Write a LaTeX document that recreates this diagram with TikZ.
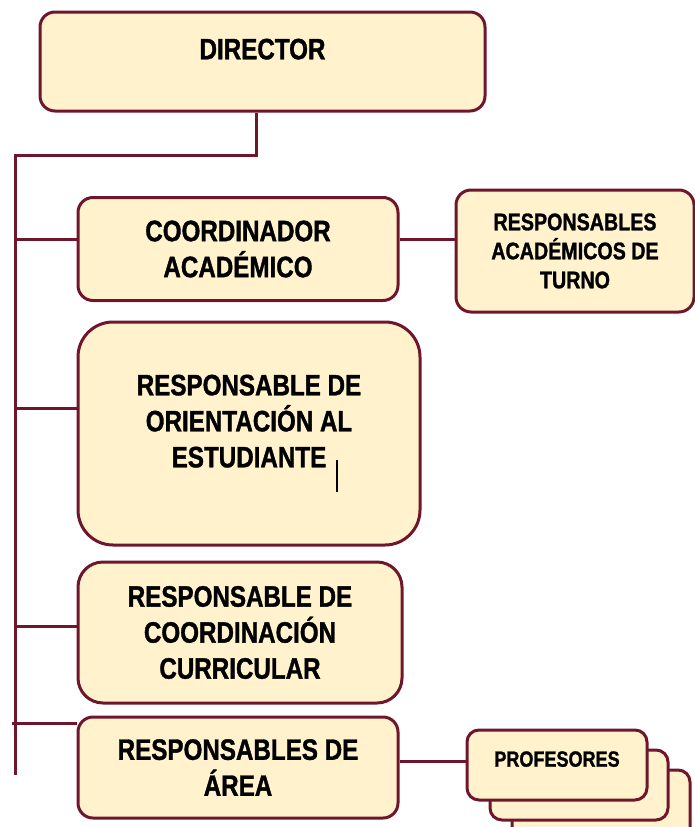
\documentclass[tikz,border=0pt]{standalone}
\usepackage{fontspec}
\newfontfamily\orgfont{Liberation Sans}[FakeStretch=0.82, BoldFeatures={FakeStretch=0.82, FakeBold=1.2}]
\definecolor{vino}{RGB}{112 22 44}
\definecolor{crema}{RGB}{255 242 204}

\begin{document}
\begin{tikzpicture}[x=1pt, y=-1pt,
	puesto/.style={draw=vino, fill=crema, line width=3pt, rounded corners=15pt,
		inner sep=0pt, align=center, text=black,
		font=\orgfont\bfseries\fontsize{29.5}{36}\selectfont},
	linea/.style={draw=vino, line width=3pt}]

	\useasboundingbox (0, 0) rectangle (695, 827);

	% boxes
	\node[puesto, minimum width=445pt, minimum height=99pt, text depth=25pt] (director) at (262.5, 61.5) {DIRECTOR};
	\node[puesto, minimum width=320pt, minimum height=103pt] (coord) at (238, 249) {COORDINADOR\\ACADÉMICO};
	\node[puesto, minimum width=238pt, minimum height=122pt,
		font=\orgfont\bfseries\fontsize{24}{29}\selectfont] (turno) at (575, 251) {RESPONSABLES\\ACADÉMICOS DE\\TURNO};
	\node[puesto, minimum width=342pt, minimum height=223pt, rounded corners=35pt,
		text depth=25pt] (orient) at (249, 433.5) {RESPONSABLE DE\\ORIENTACIÓN AL\\ESTUDIANTE};
	\node[puesto, minimum width=324pt, minimum height=141pt, rounded corners=25pt] (curric) at (240, 632.5) {RESPONSABLE DE\\COORDINACIÓN\\CURRICULAR};
	\node[puesto, minimum width=320pt, minimum height=101pt] (area) at (238, 767.5) {RESPONSABLES DE\\ÁREA};

	% stack
	\foreach \k/\dx/\dy in {2/44/40, 1/22/20} {
		\node[puesto, minimum width=178pt, minimum height=70pt, rounded corners=12pt] (prof\k) at (557 + \dx, 765 + \dy) {};
	}
	\node[puesto, minimum width=180pt, minimum height=70pt, rounded corners=12pt,
		font=\orgfont\bfseries\fontsize{22}{24}\selectfont, text depth=12pt] (prof) at (557, 765) {PROFESORES};

	% trunk
	\coordinate (arriba) at (15, 155);
	\coordinate (abajo) at (15, 775);
	\draw[linea] ([xshift=-6pt]director.south) |- (arriba) -- (abajo);

	% branches
	\draw[linea] ([yshift=10pt]coord.west) -- ([yshift=10pt]coord.west -| arriba);
	\draw[linea] ([yshift=10pt]coord.east) -- ([yshift=10pt]coord.east -| turno.west);
	\draw[linea] ([yshift=25pt]orient.west) -- ([yshift=25pt]orient.west -| arriba);
	\draw[linea] ([yshift=6pt]curric.west) -- ([yshift=6pt]curric.west -| arriba);
	\draw[linea] ([yshift=44pt]area.west) -- ([yshift=44pt,xshift=-3pt]area.west -| arriba);
	\draw[linea] ([yshift=6pt]area.east) -- ([yshift=6pt]area.east -| prof.west);

	% cursor
	\draw[line width=1.2pt] (337, 460) -- (337, 492);
\end{tikzpicture}
\end{document}
